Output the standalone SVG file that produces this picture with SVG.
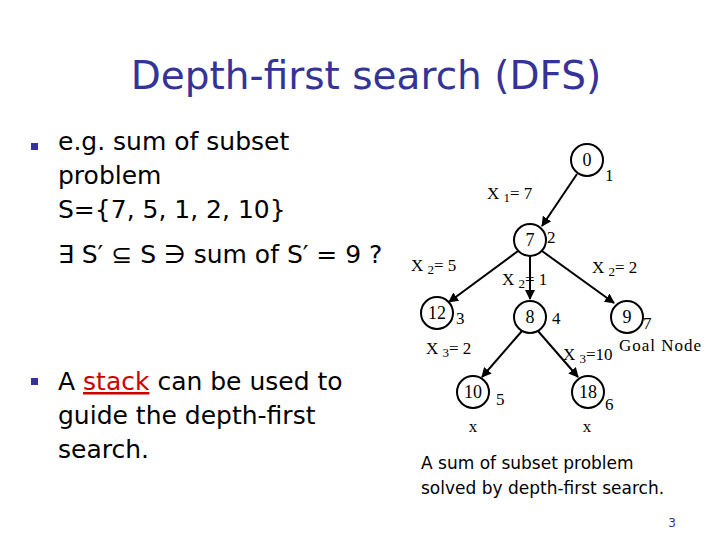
<svg xmlns="http://www.w3.org/2000/svg" width="720" height="540" viewBox="0 0 720 540">
<style>
.t{font-family:Tahoma,"DejaVu Sans",sans-serif;font-size:25px;fill:#000}
.s{font-family:"Liberation Serif",serif;font-size:17px;fill:#000}
.b{font-size:13px}
.n{font-family:"Liberation Serif",serif;font-size:18px;fill:#000}
circle{fill:#fff;stroke:#000;stroke-width:2}
line{stroke:#000;stroke-width:2}
</style>
<defs><marker id="a" viewBox="0 0 10 10" refX="9" refY="5" markerWidth="5" markerHeight="5" orient="auto"><path d="M0,0L10,5L0,10z" fill="#000"/></marker></defs>
<rect width="720" height="540" fill="#fff"/>
<text x="366" y="89" text-anchor="middle" font-family="Tahoma,'DejaVu Sans',sans-serif" font-size="39" fill="#333399">Depth-first search (DFS)</text>
<rect x="31" y="143" width="7" height="7" fill="#333399"/>
<rect x="31" y="378" width="7" height="7" fill="#333399"/>
<text class="t" x="58" y="150">e.g. sum of subset</text>
<text class="t" x="58" y="184">problem</text>
<text class="t" x="58" y="218">S={7, 5, 1, 2, 10}</text>
<text class="t" x="58" y="263">∃ S′ ⊆ S ∋ sum of S′ = 9 ?</text>
<text class="t" x="58" y="390">A <tspan fill="#cc0000" text-decoration="underline">stack</tspan> can be used to</text>
<text class="t" x="58" y="424">guide the depth-first</text>
<text class="t" x="58" y="458">search.</text>
<g id="edges">
<line x1="577" y1="174" x2="542" y2="226" marker-end="url(#a)"/>
<line x1="518" y1="251" x2="449" y2="302" marker-end="url(#a)"/>
<line x1="530" y1="256" x2="530" y2="299" marker-end="url(#a)"/>
<line x1="542" y1="251" x2="614" y2="303" marker-end="url(#a)"/>
<line x1="522" y1="331" x2="482" y2="377" marker-end="url(#a)"/>
<line x1="538" y1="331" x2="578" y2="377" marker-end="url(#a)"/>
</g>
<g id="n0"><circle cx="587" cy="160" r="16"/><text class="n" x="587" y="166" text-anchor="middle">0</text><text class="s" x="605" y="181">1</text></g>
<g id="n7"><circle cx="530" cy="240" r="16"/><text class="n" x="530" y="246" text-anchor="middle">7</text><text class="s" x="547" y="243">2</text></g>
<g id="n12"><circle cx="437" cy="313" r="16"/><text class="n" x="437" y="319" text-anchor="middle">12</text><text class="s" x="456" y="324">3</text></g>
<g id="n8"><circle cx="530" cy="317" r="16"/><text class="n" x="530" y="323" text-anchor="middle">8</text><text class="s" x="552" y="324">4</text></g>
<g id="n9"><circle cx="627" cy="317" r="16"/><text class="n" x="627" y="323" text-anchor="middle">9</text><text class="s" x="643" y="329">7</text></g>
<g id="n10"><circle cx="473" cy="392" r="16"/><text class="n" x="473" y="398" text-anchor="middle">10</text><text class="s" x="496" y="405">5</text></g>
<g id="n18"><circle cx="588" cy="392" r="16"/><text class="n" x="588" y="398" text-anchor="middle">18</text><text class="s" x="605" y="410">6</text></g>
<text class="s" x="487" y="199">X <tspan class="b" dy="3">1</tspan><tspan dy="-3">= 7</tspan></text>
<text class="s" x="411" y="271">X <tspan class="b" dy="3">2</tspan><tspan dy="-3">= 5</tspan></text>
<text class="s" x="502" y="285">X <tspan class="b" dy="3">2</tspan><tspan dy="-3">= 1</tspan></text>
<text class="s" x="592" y="273">X <tspan class="b" dy="3">2</tspan><tspan dy="-3">= 2</tspan></text>
<text class="s" x="426" y="354">X <tspan class="b" dy="3">3</tspan><tspan dy="-3">= 2</tspan></text>
<text class="s" x="563" y="360">X <tspan class="b" dy="3">3</tspan><tspan dy="-3">=10</tspan></text>
<text class="s" x="619" y="351" letter-spacing="1">Goal  Node</text>
<text class="s" x="473" y="432" text-anchor="middle">x</text>
<text class="s" x="587" y="432" text-anchor="middle">x</text>
<text x="421" y="469" font-family="Tahoma,'DejaVu Sans',sans-serif" font-size="17">A sum of subset problem</text>
<text x="421" y="494" font-family="Tahoma,'DejaVu Sans',sans-serif" font-size="17">solved by depth-first search.</text>
<text x="672" y="527" text-anchor="middle" font-family="Tahoma,'DejaVu Sans',sans-serif" font-size="12" fill="#333399">3</text>
</svg>
